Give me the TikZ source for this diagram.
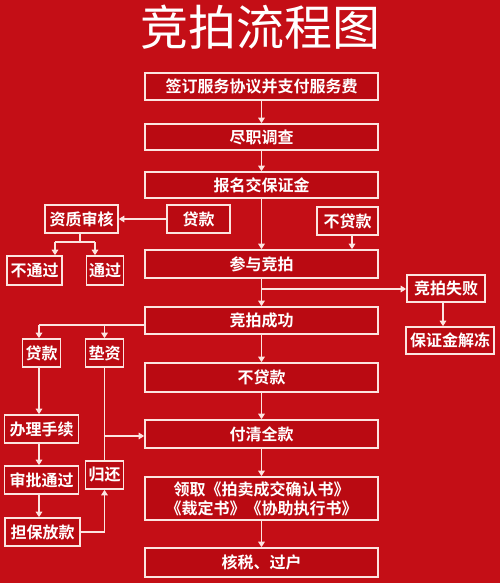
\documentclass[tikz,border=0pt]{standalone}
\usepackage{fontspec}
\newfontfamily\cjk{Noto Sans CJK SC}
\newfontfamily\cjkb{Noto Sans CJK SC Bold}
\usetikzlibrary{arrows.meta}
\definecolor{bgred}{RGB}{196,14,22}
\definecolor{boxred}{RGB}{186,10,18}
\definecolor{lnc}{RGB}{252,228,224}
\tikzset{
  box/.style={draw=lnc, line width=1.6pt, fill=boxred, text=white, font=\cjkb\fontsize{16}{19}\selectfont, inner sep=0pt, align=center},
  arr/.style={draw=lnc, line width=1.6pt, -{Triangle[width=6.5pt,length=5.5pt]}},
  ln/.style={draw=lnc, line width=1.6pt},
}
\begin{document}
\begin{tikzpicture}[x=1pt,y=-1pt]
\fill[bgred] (0,0) rectangle (500,583);
\useasboundingbox (0,0) rectangle (500,583);
\node[text=white, font=\cjk\fontsize{48}{52}\selectfont, inner sep=0pt] (title) at (260,27) {竞拍流程图};
% main column
\node[box, minimum width=233pt, minimum height=27pt] (n1) at (261.5,86.5) {签订服务协议并支付服务费};
\node[box, minimum width=233pt, minimum height=26pt] (n2) at (261.5,137) {尽职调查};
\node[box, minimum width=233pt, minimum height=26pt] (n3) at (261.5,185) {报名交保证金};
\node[box, minimum width=233pt, minimum height=28pt] (n4) at (261.5,264) {参与竞拍};
\node[box, minimum width=233pt, minimum height=27pt] (n5) at (261.5,320.5) {竞拍成功};
\node[box, minimum width=233pt, minimum height=29pt] (n6) at (261.5,377.5) {不贷款};
\node[box, minimum width=233pt, minimum height=28pt] (n7) at (261.5,434) {付清全款};
\node[box, minimum width=233pt, minimum height=43pt] (n8) at (261.5,498.5) {领取《拍卖成交确认书》\\《裁定书》《协助执行书》};
\node[box, minimum width=233pt, minimum height=29pt] (n9) at (261.5,562.5) {核税、过户};
% side boxes
\node[box, minimum width=73pt, minimum height=28pt] (q) at (81.5,219) {资质审核};
\node[box, minimum width=63pt, minimum height=28pt] (d1) at (198.5,219) {贷款};
\node[box, minimum width=55pt, minimum height=29pt] (bt) at (34.5,270.5) {不通过};
\node[box, minimum width=37pt, minimum height=29pt] (tg) at (105,270.5) {通过};
\node[box, minimum width=61pt, minimum height=28pt] (bd) at (347.5,221) {不贷款};
\node[box, minimum width=78pt, minimum height=27pt] (sb) at (446,288.5) {竞拍失败};
\node[box, minimum width=88pt, minimum height=27pt] (jd) at (450,340.5) {保证金解冻};
\node[box, minimum width=38pt, minimum height=28pt] (d2) at (41.5,353) {贷款};
\node[box, minimum width=38pt, minimum height=28pt] (dz) at (104.5,353) {垫资};
\node[box, minimum width=74pt, minimum height=28pt] (bl) at (41.5,429) {办理手续};
\node[box, minimum width=74pt, minimum height=28pt] (sp) at (41.5,480) {审批通过};
\node[box, minimum width=75pt, minimum height=28pt] (db) at (42.5,532) {担保放款};
\node[box, minimum width=38pt, minimum height=28pt] (gh) at (104.5,475) {归还};
% main flow
\draw[arr] (n1) -- (n2);
\draw[arr] (n2) -- (n3);
\draw[arr] (n3) -- (n4);
\draw[arr] (n4) -- (n5);
\draw[arr] (n5) -- (n6);
\draw[arr] (n6) -- (n7);
\draw[arr] (n7) -- (n8);
\draw[arr] (n8) -- (n9);
% loan review
\draw[arr] (d1.west) -- (q.east);
\coordinate (qj) at (80,242);
\coordinate (qL) at (55,242);
\coordinate (qR) at (95,242);
\draw[ln] (q.south -| qj) -- (qj);
\draw[ln] (qL) -- (qR);
\draw[arr] (qL) -- (qL |- bt.north);
\draw[arr] (qR) -- (qR |- tg.north);
% no loan
\coordinate (bdx) at (352,0);
\draw[arr] (bd.south -| bdx) -- (bdx |- n4.north);
% failure
\coordinate (fj) at (261.5,289);
\draw[arr] (fj) -- (fj -| sb.west);
\draw[arr] (sb.south -| 443,0) -- (443,0 |- jd.north);
% success branch
\coordinate (sj) at (145,325);
\coordinate (sL) at (39,325);
\coordinate (sR) at (104.5,325);
\draw[ln] (sj) -- (sL);
\draw[arr] (sL) -- (sL |- d2.north);
\draw[arr] (sR) -- (dz.north);
\draw[arr] (d2.south -| sL) -- (sL |- bl.north);
\draw[arr] (bl.south -| sL) -- (sL |- sp.north);
\draw[arr] (sp.south -| sL) -- (sL |- db.north);
% advance funding
\coordinate (aj) at (104.5,436);
\draw[ln] (dz.south) -- (aj);
\draw[ln] (gh.north) -- (aj);
\draw[arr] (aj) -- (aj -| n7.west);
\coordinate (rj) at (104.5,532);
\draw[ln] (db.east) -- (rj);
\draw[arr] (rj) -- (gh.south);
\end{tikzpicture}
\end{document}
